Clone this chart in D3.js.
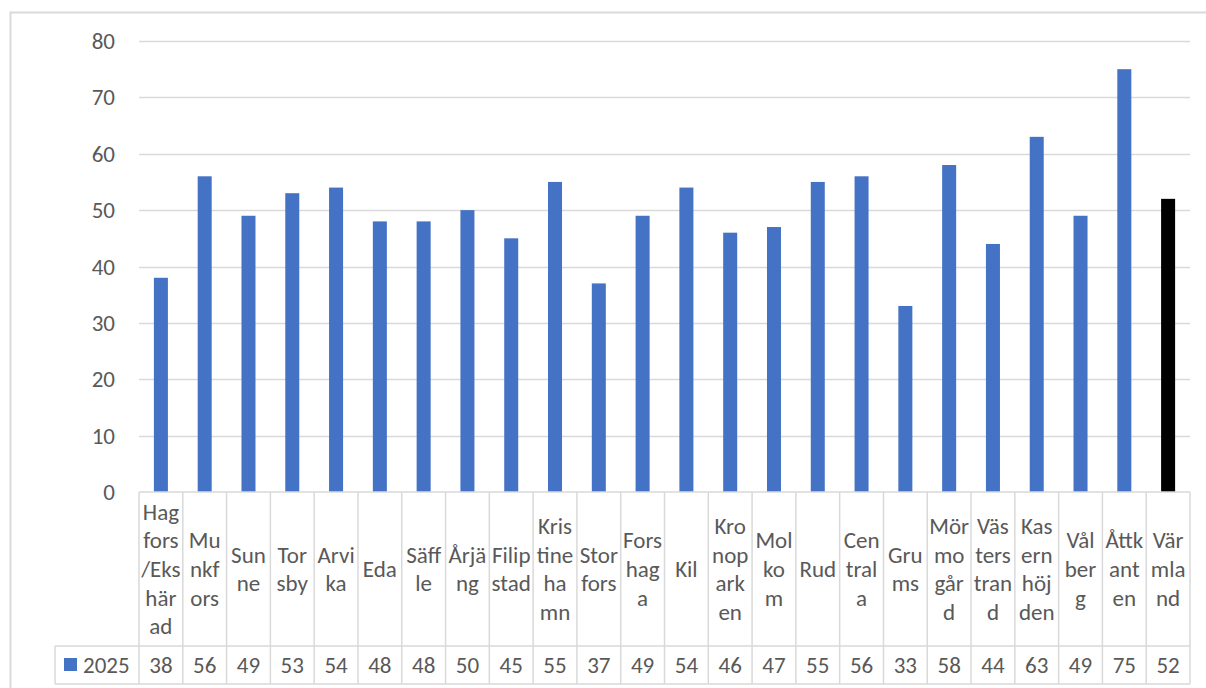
<!DOCTYPE html>
<html>
<head>
<meta charset="utf-8">
<script src="https://cdn.jsdelivr.net/npm/d3@7"></script>
<style>
  html, body { margin: 0; padding: 0; background: #fff; }
  svg { display: block; }
  text { font-family: Carlito, Calibri, Lato, sans-serif; fill: #595959; }
</style>
</head>
<body>
<svg id="viz"></svg>
<script>
const WIDTH = 1206
const HEIGHT = 688

const SERIES_NAME = '2025'
const CATEGORIES = [
    'Hagfors/Ekshärad', 'Munkfors', 'Sunne', 'Torsby', 'Arvika', 'Eda', 'Säffle', 'Årjäng',
    'Filipstad', 'Kristinehamn', 'Storfors', 'Forshaga', 'Kil', 'Kronoparken', 'Molkom', 'Rud',
    'Centrala', 'Grums', 'Mörmogård', 'Västerstrand', 'Kasernhöjden', 'Vålberg', 'Åttkanten', 'Värmland'
]
// how the labels wrap inside the table cells
const LABEL_LINES = [
    ['Hag', 'fors', '/Eks', 'här', 'ad'], ['Mu', 'nkf', 'ors'], ['Sun', 'ne'], ['Tor', 'sby'],
    ['Arvi', 'ka'], ['Eda'], ['Säff', 'le'], ['Årjä', 'ng'], ['Filip', 'stad'],
    ['Kris', 'tine', 'ha', 'mn'], ['Stor', 'fors'], ['Fors', 'hag', 'a'], ['Kil'],
    ['Kro', 'nop', 'ark', 'en'], ['Mol', 'ko', 'm'], ['Rud'], ['Cen', 'tral', 'a'], ['Gru', 'ms'],
    ['Mör', 'mo', 'går', 'd'], ['Väs', 'ters', 'tran', 'd'], ['Kas', 'ern', 'höj', 'den'],
    ['Vål', 'ber', 'g'], ['Åttk', 'ant', 'en'], ['Vär', 'mla', 'nd']
]
const VALUES = [38, 56, 49, 53, 54, 48, 48, 50, 45, 55, 37, 49, 54, 46, 47, 55, 56, 33, 58, 44, 63, 49, 75, 52]
const Y_TICKS = [0, 10, 20, 30, 40, 50, 60, 70, 80]

const COLOR_BAR = '#4472C4'
const COLOR_TOTAL = '#000000'
const COLOR_GRID = '#d9d9d9'
const FONT_SIZE = '23px'

const PLOT_LEFT = 139
const PLOT_RIGHT = 1190
const PLOT_TOP = 41
const PLOT_BOTTOM = 492
const LABEL_ROW_BOTTOM = 646
const TABLE_BOTTOM = 684
const LEGEND_LEFT = 55
const LINE_HEIGHT = 28.6

const svg = d3.select('#viz').attr('width', WIDTH).attr('height', HEIGHT)

// outer chart frame (right and bottom edges fall outside the crop)
svg.append('path')
    .attr('d', `M10.5,${HEIGHT} V12.5 H${WIDTH}`)
    .style('fill', 'none')
    .style('stroke', COLOR_GRID)
    .style('stroke-width', 2)

const x = d3.scaleBand().domain(CATEGORIES).range([PLOT_LEFT, PLOT_RIGHT]).padding(0)
const y = d3.scaleLinear().domain([0, 80]).range([PLOT_BOTTOM, PLOT_TOP])
const barW = x.bandwidth() * 0.32

// gridlines
svg.append('g')
    .selectAll('line')
    .data(Y_TICKS.filter(t => t > 0))
    .enter().append('line')
        .attr('x1', PLOT_LEFT)
        .attr('x2', PLOT_RIGHT)
        .attr('y1', d => Math.round(y(d)) + 0.5)
        .attr('y2', d => Math.round(y(d)) + 0.5)
        .style('stroke', COLOR_GRID)
        .style('stroke-width', 1.5)

// y axis labels
svg.append('g')
    .selectAll('text')
    .data(Y_TICKS)
    .enter().append('text')
        .attr('x', 115)
        .attr('y', d => y(d))
        .attr('dy', '0.35em')
        .attr('text-anchor', 'end')
        .style('font-size', FONT_SIZE)
        .text(d => d)

// bars
svg.append('g')
    .selectAll('rect')
    .data(VALUES)
    .enter().append('rect')
        .attr('x', (d, i) => x(CATEGORIES[i]) + (x.bandwidth() - barW) / 2)
        .attr('y', d => y(d))
        .attr('width', barW)
        .attr('height', d => y(0) - y(d))
        .style('fill', (d, i) => i === CATEGORIES.length - 1 ? COLOR_TOTAL : COLOR_BAR)

// data table lines
const table = svg.append('g')
    .style('stroke', COLOR_GRID)
    .style('stroke-width', 1.5)
    .style('fill', 'none')

table.append('path')
    .attr('d', `M${PLOT_LEFT},${PLOT_BOTTOM} H${PLOT_RIGHT} M${LEGEND_LEFT},${LABEL_ROW_BOTTOM} H${PLOT_RIGHT} M${LEGEND_LEFT},${TABLE_BOTTOM} H${PLOT_RIGHT} M${LEGEND_LEFT},${LABEL_ROW_BOTTOM} V${TABLE_BOTTOM}`)

table.selectAll('line')
    .data(CATEGORIES.concat(['end']))
    .enter().append('line')
        .attr('x1', (d, i) => PLOT_LEFT + i * x.step())
        .attr('x2', (d, i) => PLOT_LEFT + i * x.step())
        .attr('y1', PLOT_BOTTOM)
        .attr('y2', TABLE_BOTTOM)

// category labels, centred in their cells
const labelMid = (PLOT_BOTTOM + LABEL_ROW_BOTTOM) / 2
const labels = svg.append('g')
    .selectAll('text')
    .data(LABEL_LINES)
    .enter().append('text')
        .attr('text-anchor', 'middle')
        .style('font-size', FONT_SIZE)
        .attr('transform', (d, i) => `translate(${x(CATEGORIES[i]) + x.bandwidth() / 2},${labelMid - (d.length - 1) * LINE_HEIGHT / 2})`)

labels.selectAll('tspan')
    .data(d => d)
    .enter().append('tspan')
        .attr('x', 0)
        .attr('y', (d, i) => i * LINE_HEIGHT)
        .attr('dy', '0.35em')
        .text(d => d)

// values row
const valueMid = (LABEL_ROW_BOTTOM + TABLE_BOTTOM) / 2
svg.append('g')
    .selectAll('text')
    .data(VALUES)
    .enter().append('text')
        .attr('x', (d, i) => x(CATEGORIES[i]) + x.bandwidth() / 2)
        .attr('y', valueMid)
        .attr('dy', '0.35em')
        .attr('text-anchor', 'middle')
        .style('font-size', FONT_SIZE)
        .text(d => d)

// legend key in the table
svg.append('rect')
    .attr('x', 64)
    .attr('y', valueMid - 7)
    .attr('width', 13)
    .attr('height', 13)
    .style('fill', COLOR_BAR)

svg.append('text')
    .attr('x', 83)
    .attr('y', valueMid)
    .attr('dy', '0.35em')
    .style('font-size', FONT_SIZE)
    .text(SERIES_NAME)
</script>
</body>
</html>
